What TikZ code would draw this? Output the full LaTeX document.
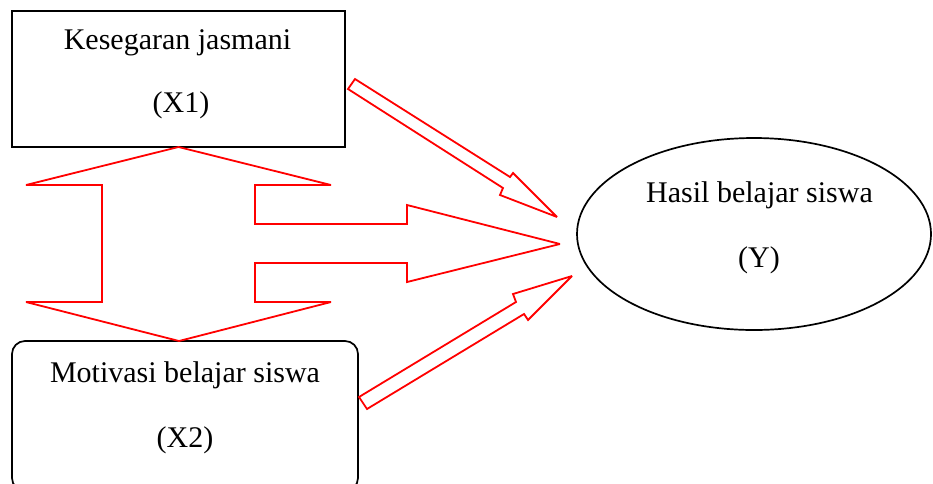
\documentclass[tikz,border=0pt]{standalone}
\usepackage{fontspec}
\setmainfont{Liberation Serif}
\usetikzlibrary{shapes.geometric}
\begin{document}
\begin{tikzpicture}[x=1pt,y=-1pt,
  box/.style={draw=black,line width=1.7pt,inner sep=0pt,outer sep=0pt},
  blockarrow/.style={draw=red,line width=1.8pt,line join=miter,miter limit=2},
  lbl/.style={inner sep=0pt,anchor=base,font=\fontsize{30}{36}\selectfont}]
\useasboundingbox (0,0) rectangle (933,483);
\clip (0,0) rectangle (933,483);

% variables
\node[box,minimum width=333pt,minimum height=136pt] (x1) at (178.5,79) {};
\node[box,rounded corners=13pt,minimum width=346pt,minimum height=150pt] (x2) at (185,416) {};
\node[box,ellipse,minimum width=354pt,minimum height=192pt] (y) at (754,234) {};

\node[lbl] (x1a) at (177.5,49) {Kesegaran jasmani};
\node[lbl] (x1b) at (181,112) {(X1)};
\node[lbl] (x2a) at (185,382) {Motivasi belajar siswa};
\node[lbl] (x2b) at (185,447) {(X2)};
\node[lbl] (ya) at (759.5,202) {Hasil belajar siswa};
\node[lbl] (yb) at (759,267) {(Y)};

% tips of the arrows
\coordinate (topapex) at (x1.south);
\coordinate (botapex) at (179,341);
\coordinate (tipmid) at (560,244);
\coordinate (tipup) at (557,217);
\coordinate (tiplow) at (572,276);

% two-way block arrow between X1 and X2, branching towards Y
\draw[blockarrow] (topapex) -- (331,185) -- (255,185) -- (255,224) -- (407,224)
  -- (407,205) -- (tipmid) -- (407,282) -- (407,263) -- (255,263) -- (255,302)
  -- (331,302) -- (botapex) -- (26,302) -- (102,302) -- (102,185) -- (26,185) -- cycle;

% X1 -> Y
\draw[blockarrow] (355,79) -- (510,177) -- (513,173) -- (tipup) -- (500,195)
  -- (503,188) -- (348,89) -- cycle;

% X2 -> Y
\draw[blockarrow] (359,397) -- (516,302) -- (513,294) -- (tiplow) -- (528,320)
  -- (524,314) -- (367,409) -- cycle;
\end{tikzpicture}
\end{document}
